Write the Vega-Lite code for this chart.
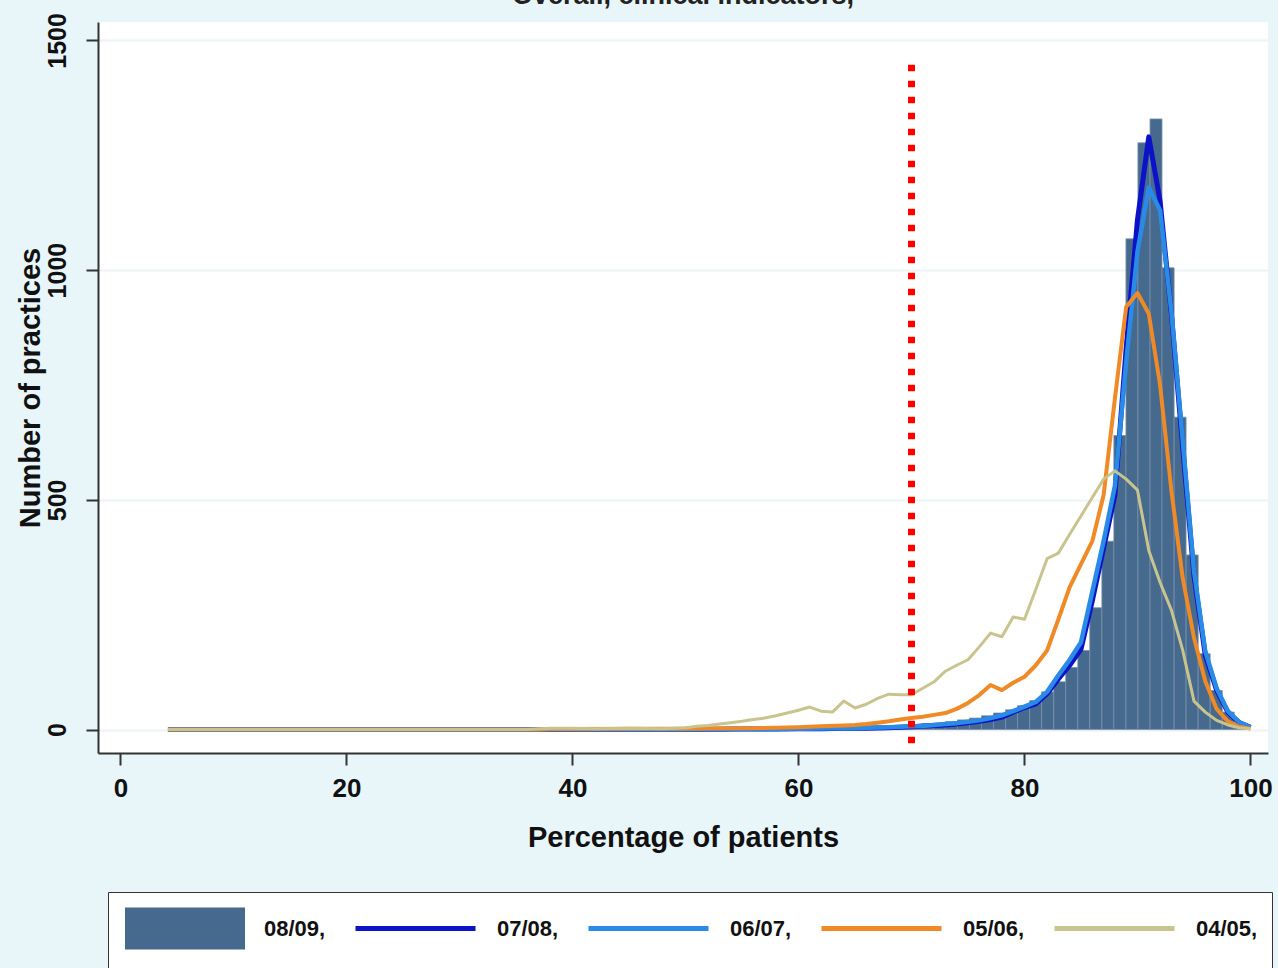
{
 "$schema": "https://vega.github.io/schema/vega-lite/v6.json",
 "width": 1170,
 "height": 731,
 "autosize": {"type": "none"},
 "padding": {"left": 98, "top": 22, "right": 10, "bottom": 215},
 "background": "#e8f6fa",
 "view": {"fill": "white", "stroke": null},
 "title": {"text": "Overall, clinical indicators,", "fontSize": 27, "font": "Liberation Sans", "fontWeight": "bold", "color": "#222", "anchor": "middle", "frame": "group", "offset": 3},
 "config": {
  "axis": {"labelFont": "Liberation Sans", "titleFont": "Liberation Sans", "labelColor": "#111", "titleColor": "#111", "domainColor": "#333", "tickColor": "#333", "labelFontWeight": "bold", "titleFontWeight": "bold", "domainWidth": 2, "tickWidth": 2, "tickSize": 12},
  "legend": {"labelFont": "Liberation Sans", "labelFontWeight": "bold", "labelColor": "#111",
    "title": null, "orient": "none", "legendX": 10, "legendY": 870, "direction": "horizontal", "columns": 5,
    "symbolSize": 1600, "symbolStrokeWidth": 5, "labelOffset": 97, "labelFontSize": 22, "labelLimit": 200,
    "padding": 14, "columnPadding": 19, "strokeColor": "#333", "fillColor": "white"}
 },
 "datasets": {
  "bars": [
   {"s":"08/09","x0":60.22,"x1":61.29,"n":2},
   {"s":"08/09","x0":61.29,"x1":62.35,"n":2},
   {"s":"08/09","x0":62.35,"x1":63.42,"n":3},
   {"s":"08/09","x0":63.42,"x1":64.48,"n":3},
   {"s":"08/09","x0":64.48,"x1":65.55,"n":4},
   {"s":"08/09","x0":65.55,"x1":66.61,"n":5},
   {"s":"08/09","x0":66.61,"x1":67.68,"n":6},
   {"s":"08/09","x0":67.68,"x1":68.74,"n":7},
   {"s":"08/09","x0":68.74,"x1":69.81,"n":8},
   {"s":"08/09","x0":69.81,"x1":70.87,"n":10},
   {"s":"08/09","x0":70.87,"x1":71.94,"n":12},
   {"s":"08/09","x0":71.94,"x1":73.00,"n":14},
   {"s":"08/09","x0":73.00,"x1":74.07,"n":17},
   {"s":"08/09","x0":74.07,"x1":75.13,"n":21},
   {"s":"08/09","x0":75.13,"x1":76.20,"n":25},
   {"s":"08/09","x0":76.20,"x1":77.26,"n":30},
   {"s":"08/09","x0":77.26,"x1":78.33,"n":36},
   {"s":"08/09","x0":78.33,"x1":79.39,"n":43},
   {"s":"08/09","x0":79.39,"x1":80.46,"n":52},
   {"s":"08/09","x0":80.46,"x1":81.52,"n":63},
   {"s":"08/09","x0":81.52,"x1":82.59,"n":82},
   {"s":"08/09","x0":82.59,"x1":83.65,"n":104},
   {"s":"08/09","x0":83.65,"x1":84.72,"n":135},
   {"s":"08/09","x0":84.72,"x1":85.78,"n":172},
   {"s":"08/09","x0":85.78,"x1":86.85,"n":265},
   {"s":"08/09","x0":86.85,"x1":87.91,"n":410},
   {"s":"08/09","x0":87.91,"x1":88.98,"n":640},
   {"s":"08/09","x0":88.98,"x1":90.04,"n":1068},
   {"s":"08/09","x0":90.04,"x1":91.11,"n":1277},
   {"s":"08/09","x0":91.11,"x1":92.17,"n":1329},
   {"s":"08/09","x0":92.17,"x1":93.24,"n":1005},
   {"s":"08/09","x0":93.24,"x1":94.30,"n":680},
   {"s":"08/09","x0":94.30,"x1":95.37,"n":380},
   {"s":"08/09","x0":95.37,"x1":96.43,"n":165},
   {"s":"08/09","x0":96.43,"x1":97.50,"n":85},
   {"s":"08/09","x0":97.50,"x1":98.56,"n":38},
   {"s":"08/09","x0":98.56,"x1":99.63,"n":12}
  ],
  "lines": [
   {"s":"07/08","x":4.2,"n":0},{"s":"07/08","x":40,"n":0},{"s":"07/08","x":50,"n":0},{"s":"07/08","x":55,"n":1},{"s":"07/08","x":58,"n":1},{"s":"07/08","x":60,"n":2},{"s":"07/08","x":62,"n":2},{"s":"07/08","x":64,"n":3},{"s":"07/08","x":66,"n":3},{"s":"07/08","x":68,"n":4},{"s":"07/08","x":69,"n":5},{"s":"07/08","x":70,"n":6},{"s":"07/08","x":71,"n":8},{"s":"07/08","x":72,"n":9},{"s":"07/08","x":73,"n":10},{"s":"07/08","x":74,"n":12},{"s":"07/08","x":75,"n":15},{"s":"07/08","x":76,"n":18},{"s":"07/08","x":77,"n":22},{"s":"07/08","x":78,"n":27},{"s":"07/08","x":79,"n":38},{"s":"07/08","x":80,"n":48},{"s":"07/08","x":81,"n":56},{"s":"07/08","x":82,"n":78},{"s":"07/08","x":83,"n":110},{"s":"07/08","x":84,"n":140},{"s":"07/08","x":85,"n":175},{"s":"07/08","x":86,"n":280},{"s":"07/08","x":87,"n":395},{"s":"07/08","x":88,"n":510},{"s":"07/08","x":89,"n":830},{"s":"07/08","x":90,"n":1110},{"s":"07/08","x":91,"n":1290},{"s":"07/08","x":92,"n":1150},{"s":"07/08","x":93,"n":905},{"s":"07/08","x":94,"n":615},{"s":"07/08","x":95,"n":335},{"s":"07/08","x":96,"n":162},{"s":"07/08","x":97,"n":86},{"s":"07/08","x":98,"n":38},{"s":"07/08","x":99,"n":15},{"s":"07/08","x":100,"n":5},
   {"s":"06/07","x":4.2,"n":0},{"s":"06/07","x":40,"n":0},{"s":"06/07","x":50,"n":0},{"s":"06/07","x":55,"n":1},{"s":"06/07","x":60,"n":2},{"s":"06/07","x":64,"n":3},{"s":"06/07","x":66,"n":4},{"s":"06/07","x":68,"n":5},{"s":"06/07","x":70,"n":7},{"s":"06/07","x":71,"n":8},{"s":"06/07","x":72,"n":10},{"s":"06/07","x":73,"n":12},{"s":"06/07","x":74,"n":14},{"s":"06/07","x":75,"n":17},{"s":"06/07","x":76,"n":20},{"s":"06/07","x":77,"n":25},{"s":"06/07","x":78,"n":31},{"s":"06/07","x":79,"n":40},{"s":"06/07","x":80,"n":50},{"s":"06/07","x":81,"n":60},{"s":"06/07","x":82,"n":82},{"s":"06/07","x":83,"n":118},{"s":"06/07","x":84,"n":152},{"s":"06/07","x":85,"n":190},{"s":"06/07","x":86,"n":300},{"s":"06/07","x":87,"n":410},{"s":"06/07","x":88,"n":530},{"s":"06/07","x":89,"n":800},{"s":"06/07","x":90,"n":1040},{"s":"06/07","x":91,"n":1180},{"s":"06/07","x":92,"n":1130},{"s":"06/07","x":93,"n":910},{"s":"06/07","x":94,"n":630},{"s":"06/07","x":95,"n":345},{"s":"06/07","x":96,"n":170},{"s":"06/07","x":97,"n":90},{"s":"06/07","x":98,"n":40},{"s":"06/07","x":99,"n":16},{"s":"06/07","x":100,"n":5},
   {"s":"05/06","x":4.2,"n":0},{"s":"05/06","x":20,"n":0},{"s":"05/06","x":37,"n":0},{"s":"05/06","x":38,"n":1},{"s":"05/06","x":40,"n":1},{"s":"05/06","x":45,"n":2},{"s":"05/06","x":50,"n":2},{"s":"05/06","x":55,"n":3},{"s":"05/06","x":58,"n":4},{"s":"05/06","x":60,"n":5},{"s":"05/06","x":62,"n":7},{"s":"05/06","x":64,"n":9},{"s":"05/06","x":65,"n":10},{"s":"05/06","x":66,"n":12},{"s":"05/06","x":67,"n":15},{"s":"05/06","x":68,"n":18},{"s":"05/06","x":69,"n":22},{"s":"05/06","x":70,"n":25},{"s":"05/06","x":71,"n":28},{"s":"05/06","x":72,"n":32},{"s":"05/06","x":73,"n":36},{"s":"05/06","x":74,"n":45},{"s":"05/06","x":75,"n":58},{"s":"05/06","x":76,"n":75},{"s":"05/06","x":77,"n":97},{"s":"05/06","x":78,"n":86},{"s":"05/06","x":79,"n":102},{"s":"05/06","x":80,"n":115},{"s":"05/06","x":81,"n":140},{"s":"05/06","x":82,"n":172},{"s":"05/06","x":83,"n":240},{"s":"05/06","x":84,"n":310},{"s":"05/06","x":85,"n":360},{"s":"05/06","x":86,"n":410},{"s":"05/06","x":87,"n":510},{"s":"05/06","x":88,"n":720},{"s":"05/06","x":89,"n":920},{"s":"05/06","x":90,"n":950},{"s":"05/06","x":91,"n":905},{"s":"05/06","x":92,"n":750},{"s":"05/06","x":93,"n":520},{"s":"05/06","x":94,"n":330},{"s":"05/06","x":95,"n":200},{"s":"05/06","x":96,"n":105},{"s":"05/06","x":97,"n":45},{"s":"05/06","x":98,"n":18},{"s":"05/06","x":99,"n":6},{"s":"05/06","x":100,"n":2},
   {"s":"04/05","x":4.2,"n":0},{"s":"04/05","x":20,"n":0},{"s":"04/05","x":36,"n":0},{"s":"04/05","x":38,"n":3},{"s":"04/05","x":40,"n":3},{"s":"04/05","x":42,"n":2},{"s":"04/05","x":45,"n":3},{"s":"04/05","x":48,"n":2},{"s":"04/05","x":49,"n":3},{"s":"04/05","x":50,"n":4},{"s":"04/05","x":51,"n":7},{"s":"04/05","x":52,"n":9},{"s":"04/05","x":53,"n":12},{"s":"04/05","x":54,"n":15},{"s":"04/05","x":55,"n":18},{"s":"04/05","x":56,"n":22},{"s":"04/05","x":57,"n":25},{"s":"04/05","x":58,"n":30},{"s":"04/05","x":59,"n":36},{"s":"04/05","x":60,"n":42},{"s":"04/05","x":61,"n":49},{"s":"04/05","x":62,"n":40},{"s":"04/05","x":63,"n":38},{"s":"04/05","x":64,"n":62},{"s":"04/05","x":65,"n":47},{"s":"04/05","x":66,"n":55},{"s":"04/05","x":67,"n":68},{"s":"04/05","x":68,"n":77},{"s":"04/05","x":69,"n":76},{"s":"04/05","x":70,"n":76},{"s":"04/05","x":71,"n":90},{"s":"04/05","x":72,"n":104},{"s":"04/05","x":73,"n":127},{"s":"04/05","x":74,"n":140},{"s":"04/05","x":75,"n":152},{"s":"04/05","x":76,"n":180},{"s":"04/05","x":77,"n":210},{"s":"04/05","x":78,"n":202},{"s":"04/05","x":79,"n":245},{"s":"04/05","x":80,"n":240},{"s":"04/05","x":81,"n":305},{"s":"04/05","x":82,"n":372},{"s":"04/05","x":83,"n":384},{"s":"04/05","x":84,"n":425},{"s":"04/05","x":85,"n":465},{"s":"04/05","x":86,"n":505},{"s":"04/05","x":87,"n":545},{"s":"04/05","x":88,"n":563},{"s":"04/05","x":89,"n":545},{"s":"04/05","x":90,"n":521},{"s":"04/05","x":91,"n":390},{"s":"04/05","x":92,"n":320},{"s":"04/05","x":93,"n":260},{"s":"04/05","x":94,"n":173},{"s":"04/05","x":95,"n":62},{"s":"04/05","x":96,"n":38},{"s":"04/05","x":97,"n":20},{"s":"04/05","x":98,"n":10},{"s":"04/05","x":99,"n":4},{"s":"04/05","x":100,"n":2}
  ]
 },
 "layer": [
  {
   "data": {"name": "bars"},
   "mark": {"type": "rect", "stroke": "#7890aa", "strokeWidth": 0.8},
   "encoding": {
    "x": {"field": "x0", "type": "quantitative", "scale": {"domain": [-1.99, 101.55], "nice": false, "zero": false},
          "axis": {"values": [0, 20, 40, 60, 80, 100], "title": "Percentage of patients", "labelFontSize": 26, "titleFontSize": 29, "labelPadding": 10, "titlePadding": 22, "labelFlush": false, "grid": false}},
    "x2": {"field": "x1"},
    "y": {"field": "n", "type": "quantitative", "scale": {"domain": [-51, 1540], "nice": false, "zero": false},
          "axis": {"values": [0, 500, 1000, 1500], "format": "d", "title": "Number of practices", "labelFontSize": 25, "titleFontSize": 29, "labelAngle": 270, "labelAlign": "center", "labelBaseline": "bottom", "labelPadding": 16, "titlePadding": 0, "grid": true, "gridColor": "#edf4f6", "gridWidth": 2}},
    "y2": {"datum": 0},
    "color": {"field": "s", "type": "nominal",
      "scale": {"domain": ["08/09", "07/08", "06/07", "05/06", "04/05"], "range": ["#46698e", "#0c12c8", "#2a8be6", "#ef8a26", "#c9c48e"]},
      "legend": {"labelExpr": "datum.label + ','",
        "encode": {"symbols": {"update": {
          "shape": {"signal": "datum.value === '08/09' ? 'M-0.85,-0.925H4.9V0.925H-0.85Z' : 'M-1.1,-0.925M-1.1,0.925M-1.1,0H4.9'"},
          "fill": {"signal": "datum.value === '08/09' ? '#46698e' : 'transparent'"},
          "stroke": {"signal": "datum.value === '08/09' ? '#46698e' : datum.value === '07/08' ? '#0c12c8' : datum.value === '06/07' ? '#2a8be6' : datum.value === '05/06' ? '#ef8a26' : '#c9c48e'"},
          "opacity": {"value": 1}
        }}}
      }
    }
   }
  },
  {
   "data": {"name": "lines"},
   "transform": [{"filter": "datum.s === '07/08'"}],
   "mark": {"type": "line", "strokeWidth": 5, "strokeJoin": "round"},
   "encoding": {
    "x": {"field": "x", "type": "quantitative", "scale": {"domain": [-1.99, 101.55], "nice": false, "zero": false}, "title": "Percentage of patients"},
    "y": {"field": "n", "type": "quantitative", "scale": {"domain": [-51, 1540], "nice": false, "zero": false}, "title": "Number of practices"},
    "color": {"field": "s", "type": "nominal", "scale": {"domain": ["08/09", "07/08", "06/07", "05/06", "04/05"], "range": ["#46698e", "#0c12c8", "#2a8be6", "#ef8a26", "#c9c48e"]},
      "legend": {"labelExpr": "datum.label + ','",
        "encode": {"symbols": {"update": {
          "shape": {"signal": "datum.value === '08/09' ? 'M-0.85,-0.925H4.9V0.925H-0.85Z' : 'M-1.1,-0.925M-1.1,0.925M-1.1,0H4.9'"},
          "fill": {"signal": "datum.value === '08/09' ? '#46698e' : 'transparent'"},
          "stroke": {"signal": "datum.value === '08/09' ? '#46698e' : datum.value === '07/08' ? '#0c12c8' : datum.value === '06/07' ? '#2a8be6' : datum.value === '05/06' ? '#ef8a26' : '#c9c48e'"},
          "opacity": {"value": 1}
        }}}
      }}
   }
  },
  {
   "data": {"name": "lines"},
   "transform": [{"filter": "datum.s === '06/07'"}],
   "mark": {"type": "line", "strokeWidth": 4.5, "strokeJoin": "round"},
   "encoding": {
    "x": {"field": "x", "type": "quantitative", "scale": {"domain": [-1.99, 101.55], "nice": false, "zero": false}, "title": "Percentage of patients"},
    "y": {"field": "n", "type": "quantitative", "scale": {"domain": [-51, 1540], "nice": false, "zero": false}, "title": "Number of practices"},
    "color": {"field": "s", "type": "nominal", "scale": {"domain": ["08/09", "07/08", "06/07", "05/06", "04/05"], "range": ["#46698e", "#0c12c8", "#2a8be6", "#ef8a26", "#c9c48e"]},
      "legend": {"labelExpr": "datum.label + ','",
        "encode": {"symbols": {"update": {
          "shape": {"signal": "datum.value === '08/09' ? 'M-0.85,-0.925H4.9V0.925H-0.85Z' : 'M-1.1,-0.925M-1.1,0.925M-1.1,0H4.9'"},
          "fill": {"signal": "datum.value === '08/09' ? '#46698e' : 'transparent'"},
          "stroke": {"signal": "datum.value === '08/09' ? '#46698e' : datum.value === '07/08' ? '#0c12c8' : datum.value === '06/07' ? '#2a8be6' : datum.value === '05/06' ? '#ef8a26' : '#c9c48e'"},
          "opacity": {"value": 1}
        }}}
      }}
   }
  },
  {
   "data": {"name": "lines"},
   "transform": [{"filter": "datum.s === '05/06'"}],
   "mark": {"type": "line", "strokeWidth": 4, "strokeJoin": "round"},
   "encoding": {
    "x": {"field": "x", "type": "quantitative", "scale": {"domain": [-1.99, 101.55], "nice": false, "zero": false}, "title": "Percentage of patients"},
    "y": {"field": "n", "type": "quantitative", "scale": {"domain": [-51, 1540], "nice": false, "zero": false}, "title": "Number of practices"},
    "color": {"field": "s", "type": "nominal", "scale": {"domain": ["08/09", "07/08", "06/07", "05/06", "04/05"], "range": ["#46698e", "#0c12c8", "#2a8be6", "#ef8a26", "#c9c48e"]},
      "legend": {"labelExpr": "datum.label + ','",
        "encode": {"symbols": {"update": {
          "shape": {"signal": "datum.value === '08/09' ? 'M-0.85,-0.925H4.9V0.925H-0.85Z' : 'M-1.1,-0.925M-1.1,0.925M-1.1,0H4.9'"},
          "fill": {"signal": "datum.value === '08/09' ? '#46698e' : 'transparent'"},
          "stroke": {"signal": "datum.value === '08/09' ? '#46698e' : datum.value === '07/08' ? '#0c12c8' : datum.value === '06/07' ? '#2a8be6' : datum.value === '05/06' ? '#ef8a26' : '#c9c48e'"},
          "opacity": {"value": 1}
        }}}
      }}
   }
  },
  {
   "data": {"name": "lines"},
   "transform": [{"filter": "datum.s === '04/05'"}],
   "mark": {"type": "line", "strokeWidth": 3, "strokeJoin": "round"},
   "encoding": {
    "x": {"field": "x", "type": "quantitative", "scale": {"domain": [-1.99, 101.55], "nice": false, "zero": false}, "title": "Percentage of patients"},
    "y": {"field": "n", "type": "quantitative", "scale": {"domain": [-51, 1540], "nice": false, "zero": false}, "title": "Number of practices"},
    "color": {"field": "s", "type": "nominal", "scale": {"domain": ["08/09", "07/08", "06/07", "05/06", "04/05"], "range": ["#46698e", "#0c12c8", "#2a8be6", "#ef8a26", "#c9c48e"]},
      "legend": {"labelExpr": "datum.label + ','",
        "encode": {"symbols": {"update": {
          "shape": {"signal": "datum.value === '08/09' ? 'M-0.85,-0.925H4.9V0.925H-0.85Z' : 'M-1.1,-0.925M-1.1,0.925M-1.1,0H4.9'"},
          "fill": {"signal": "datum.value === '08/09' ? '#46698e' : 'transparent'"},
          "stroke": {"signal": "datum.value === '08/09' ? '#46698e' : datum.value === '07/08' ? '#0c12c8' : datum.value === '06/07' ? '#2a8be6' : datum.value === '05/06' ? '#ef8a26' : '#c9c48e'"},
          "opacity": {"value": 1}
        }}}
      }}
   }
  },
  {
   "data": {"values": [{"cut": 70}]},
   "mark": {"type": "rule", "color": "#ff0000", "strokeWidth": 7, "strokeDash": [6.5, 9.5], "strokeCap": "butt"},
   "encoding": {
    "x": {"field": "cut", "type": "quantitative", "scale": {"domain": [-1.99, 101.55], "nice": false, "zero": false}, "title": "Percentage of patients"},
    "y": {"datum": 1447, "type": "quantitative", "scale": {"domain": [-51, 1540], "nice": false, "zero": false}},
    "y2": {"datum": -34}
   }
  }
 ]
}
